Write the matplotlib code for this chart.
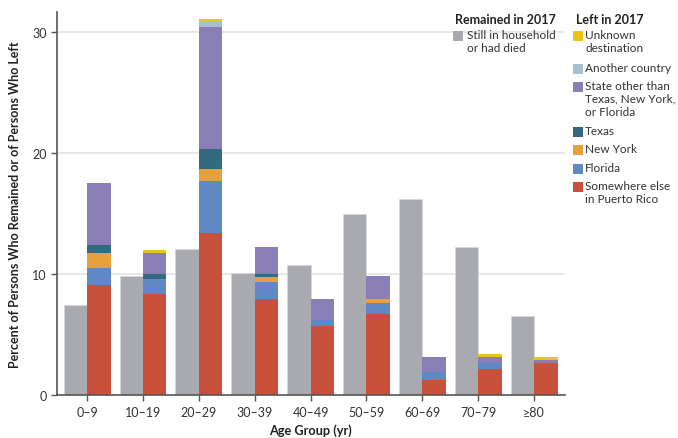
import numpy as np
import matplotlib.pyplot as plt
from matplotlib.patches import Rectangle

plt.rcParams['font.family'] = ['Lato', 'DejaVu Sans']

age_groups = ['0\u20139', '10\u201319', '20\u201329', '30\u201339', '40\u201349',
              '50\u201359', '60\u201369', '70\u201379', '\u226580']

# remained in 2017
still_in_household = [7.4, 9.8, 12.05, 10.05, 10.7, 14.9, 16.2, 12.25, 6.5]

# left in 2017, stacked bottom to top
somewhere_pr = [9.1, 8.35, 13.4, 7.9, 5.7, 6.7, 1.2, 2.15, 2.6]
florida = [1.4, 1.2, 4.3, 1.4, 0.5, 0.9, 0.7, 0.45, 0.05]
new_york = [1.2, 0.0, 0.95, 0.45, 0.0, 0.3, 0.0, 0.05, 0.0]
texas = [0.7, 0.45, 1.65, 0.25, 0.0, 0.0, 0.0, 0.0, 0.0]
other_state = [5.1, 1.7, 10.1, 2.2, 1.7, 1.9, 1.2, 0.45, 0.2]
another_country = [0.0, 0.0, 0.5, 0.0, 0.0, 0.0, 0.0, 0.0, 0.0]
unknown = [0.0, 0.25, 0.17, 0.0, 0.0, 0.0, 0.0, 0.25, 0.25]

left_series = [somewhere_pr, florida, new_york, texas, other_state, another_country, unknown]
left_colors = ['#C8513B', '#5F88C4', '#E8A03F', '#336A80', '#8A7EB6', '#A6C0D2', '#EEC217']
left_labels = ['Somewhere else\nin Puerto Rico', 'Florida', 'New York', 'Texas',
               'State other than\nTexas, New York,\nor Florida', 'Another country',
               'Unknown\ndestination']
gray = '#A9AAAF'

fig = plt.figure(figsize=(6.78, 4.39), dpi=100)
ax = fig.add_axes([0.084, 0.098, 0.749, 0.872])

x = np.arange(len(age_groups))
w = 0.42
ax.bar(x - w / 2, still_in_household, width=w, color=gray, edgecolor='#d6d7da', linewidth=0.6, zorder=2)
bottom = np.zeros(len(age_groups))
for vals, col in zip(left_series, left_colors):
    ax.bar(x + w / 2, vals, width=w, bottom=bottom, color=col, linewidth=0, zorder=2)
    bottom += np.array(vals)

ax.set_xlim(-0.54, 8.55)
ax.set_ylim(0, 31.6)
ax.set_yticks([0, 10, 20, 30])
ax.set_xticks(x)
ax.set_xticklabels(age_groups)
for yv in [10, 20, 30]:
    ax.axhline(yv, color='#e3e3e3', lw=1.2, zorder=1)
for s in ['top', 'right']:
    ax.spines[s].set_visible(False)
for s in ['left', 'bottom']:
    ax.spines[s].set_color('#555555')
    ax.spines[s].set_linewidth(1.2)
ax.tick_params(colors='#555555', labelcolor='#333333', labelsize=9, length=4, width=1)
ax.tick_params(axis='x', pad=4)
ax.set_xlabel('Age Group (yr)', fontsize=9.2, fontweight='bold', color='#222222', labelpad=4)
ax.set_ylabel('Percent of Persons Who Remained or of Persons Who Left', fontsize=9,
              fontweight='bold', color='#222222', labelpad=8)

# legend drawn by hand in figure pixels
W, H = 678, 439
def px(xp, yp):
    return xp / W, 1 - yp / H

def box(xp, yp, col):
    fig.patches.append(Rectangle(px(xp, yp + 5), 10 / W, 10 / H, transform=fig.transFigure,
                                 facecolor=col, edgecolor='none'))

fig.text(*px(505, 20), 'Remained in 2017', ha='center', va='center', fontsize=9, fontweight='bold', color='#222222')
fig.text(*px(610, 20), 'Left in 2017', ha='center', va='center', fontsize=9, fontweight='bold', color='#222222')
box(453, 37, gray)
fig.text(*px(467, 30), 'Still in household\nor had died', ha='left', va='top', fontsize=8.5,
         color='#333333', linespacing=1.2)

ys = [188, 170, 151, 133, 88, 70, 37]
for yp, col, lab in zip(ys, left_colors, left_labels):
    box(573, yp, col)
    fig.text(*px(585, yp - 7), lab, ha='left', va='top', fontsize=8.5, color='#333333', linespacing=1.2)

fig.savefig('out.png', dpi=100)
